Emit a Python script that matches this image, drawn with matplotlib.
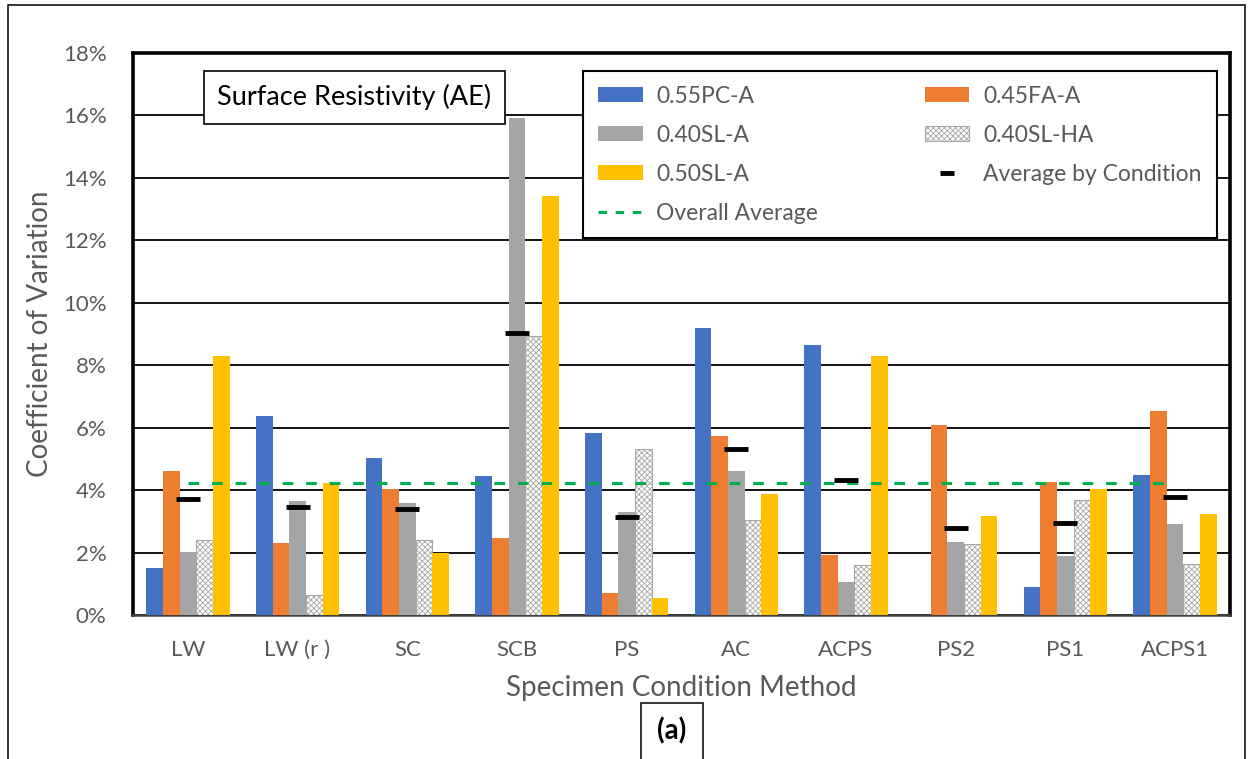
import numpy as np
import matplotlib
matplotlib.use("Agg")
import matplotlib.pyplot as plt
from matplotlib.patches import Rectangle

plt.rcParams['font.family'] = ['Lato', 'DejaVu Sans']
plt.rcParams['hatch.linewidth'] = 0.6

conditions = ["LW", "LW (r )", "SC", "SCB", "PS", "AC", "ACPS", "PS2", "PS1", "ACPS1"]
pc55 = [1.49, 6.37, 5.02, 4.46, 5.83, 9.18, 8.66, 0.0, 0.90, 4.50]
fa45 = [4.61, 2.30, 4.05, 2.46, 0.70, 5.73, 1.93, 6.10, 4.25, 6.52]
sl40 = [2.01, 3.64, 3.59, 15.93, 3.29, 4.60, 1.05, 2.35, 1.90, 2.92]
sl40h = [2.40, 0.64, 2.40, 8.94, 5.32, 3.04, 1.60, 2.28, 3.68, 1.62]
sl50 = [8.28, 4.22, 1.99, 13.43, 0.55, 3.88, 8.31, 3.17, 4.02, 3.22]
avg_cond = [3.73, 3.47, 3.41, 9.02, 3.14, 5.32, 4.33, 2.79, 2.95, 3.77]
overall_avg = 4.22

series = [
    ("0.55PC-A", pc55, "#4472C4"),
    ("0.45FA-A", fa45, "#ED7D31"),
    ("0.40SL-A", sl40, "#A5A5A5"),
    ("0.40SL-HA", sl40h, None),
    ("0.50SL-A", sl50, "#FFC000"),
]

gray_txt = "#595959"
W, H = 1252, 759
fig = plt.figure(figsize=(W / 100, H / 100), dpi=100)
ax = fig.add_axes([133 / W, 1 - 615 / H, (1230 - 133) / W, (615 - 53) / H])

x = np.arange(len(conditions))
w = 0.152
handles = {}
for k, (name, vals, col) in enumerate(series):
    xs = x + (k - 2) * w
    if col is None:
        b = ax.bar(xs, vals, w, facecolor="white", edgecolor="#A6A6A6",
                   hatch="xxxxxx", linewidth=0.8, label=name, zorder=3)
    else:
        b = ax.bar(xs, vals, w, color=col, label=name, zorder=3)
    handles[name] = b

avg_h, = ax.plot(x, avg_cond, ls="none", marker="_", markersize=17,
                 markeredgewidth=3.5, color="black", label="Average by Condition", zorder=5)
ov_h, = ax.plot([x[0], x[-1]], [overall_avg, overall_avg], color="#00B050",
                lw=2.2, dashes=(3.5, 4.2), label="Overall Average", zorder=4)

ax.set_xlim(-0.5, len(conditions) - 0.5)
ax.set_ylim(0, 18)
ax.set_yticks(np.arange(0, 19, 2))
ax.set_yticklabels([f"{v}%" for v in range(0, 19, 2)])
ax.set_xticks(x)
ax.set_xticklabels(conditions)
ax.tick_params(axis="both", length=0, labelsize=16, labelcolor=gray_txt)
ax.tick_params(axis="y", pad=19)
ax.tick_params(axis="x", pad=18)
ax.yaxis.grid(True, color="black", lw=1.3, zorder=0)
ax.set_axisbelow(True)
for s in ["left", "top", "right"]:
    ax.spines[s].set_linewidth(2.6)
    ax.spines[s].set_color("black")
ax.spines["bottom"].set_linewidth(1.8)
ax.spines["bottom"].set_color("#404040")

ax.set_ylabel("Coefficient of Variation", fontsize=20, color=gray_txt, labelpad=7)
ax.set_xlabel("Specimen Condition Method", fontsize=20, color=gray_txt, labelpad=11)

ax.text(0.2017, 0.921, "Surface Resistivity (AE)", transform=ax.transAxes,
        fontsize=19.5, color="black", ha="center", va="center",
        bbox=dict(boxstyle="square,pad=0.5", facecolor="white", edgecolor="black", lw=1.2),
        zorder=6)

order = [handles["0.55PC-A"], handles["0.40SL-A"], handles["0.50SL-A"], ov_h,
         handles["0.45FA-A"], handles["0.40SL-HA"], avg_h]
labels = ["0.55PC-A", "0.40SL-A", "0.50SL-A", "Overall Average",
          "0.45FA-A", "0.40SL-HA", "Average by Condition"]
leg = fig.legend(order, labels, ncol=2, loc="upper left",
                 bbox_to_anchor=(583 / W, 1 - 71 / H), bbox_transform=fig.transFigure,
                 fontsize=16.5, frameon=True, fancybox=False, framealpha=1,
                 edgecolor="black", handlelength=1.95, handleheight=0.65,
                 handletextpad=0.6, labelspacing=0.78, columnspacing=4.65,
                 borderpad=0.65, borderaxespad=0)
leg.get_frame().set_linewidth(1.5)
for t in leg.get_texts():
    t.set_color(gray_txt)
for h in leg.legend_handles:
    if getattr(h, "get_marker", None) and h.get_marker() == "_":
        h.set_markersize(10)
    elif getattr(h, "get_linestyle", None) and h.get_linestyle() == "--":
        h.set_dashes((2.8, 2.8))

# outer chart frame
fig.patches.append(Rectangle((8 / W, -0.02), (1245 - 8) / W, 1 - 5 / H + 0.02,
                             transform=fig.transFigure, fill=False,
                             edgecolor="black", lw=1.1))
# panel label box
fig.patches.append(Rectangle((641 / W, -0.02), 62 / W, 1 - 703 / H + 0.02,
                             transform=fig.transFigure, fill=False,
                             edgecolor="black", lw=1.1))
fig.text(672 / W, 1 - 731 / H, "(a)", fontsize=20, fontweight="bold",
         ha="center", va="center")

fig.savefig("out.png", dpi=100)
